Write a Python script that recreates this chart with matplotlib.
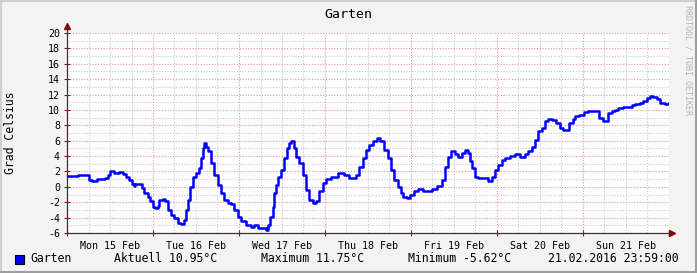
import matplotlib
matplotlib.use("Agg")
import matplotlib.pyplot as plt
from matplotlib.patches import Rectangle
from matplotlib.lines import Line2D
from matplotlib.ticker import MultipleLocator

plt.rcParams['font.family'] = ['DejaVu Sans Mono']

# hours since Mon 15 Feb 2016 00:00, temperature in degC
hours = [0, 3, 6, 7, 8.5, 10.5, 11.5, 11.9, 13, 14.5, 15.6, 16.5, 17.3, 18.1, 18.7, 19, 20.3,
         20.9, 21.5, 22.6, 23.2, 24, 24.6, 25.4, 25.7, 26.8, 27.3, 28.2, 29, 29.9, 31, 31.8,
         32.6, 33.2, 33.8, 34.3, 35.2, 36, 36.8, 37.4, 37.9, 38.2, 38.8, 39.3, 40.2, 41, 42.1,
         43, 43.8, 44.9, 45.8, 46.6, 47.7, 48.6, 49.9, 51.3, 52.2, 53.3, 54.7, 55.5, 56.1,
         56.7, 57.5, 57.8, 58.3, 58.9, 59.7, 60.6, 61.4, 61.9, 62.5, 63.3, 63.9, 64.7, 65.8,
         66.7, 67.5, 68.6, 69.5, 70.3, 71.4, 72.3, 73.7, 75.6, 77.3, 78.7, 79.5, 80.6, 81.4,
         82.6, 83.4, 84.2, 85.3, 86.5, 87.3, 88.4, 89.5, 90.3, 91.2, 92.3, 93.1, 93.9, 95,
         95.8, 96.7, 98, 99.4, 100.8, 101.9, 103.3, 104.7, 105.5, 106.4, 107.2, 108.3, 109.1,
         110.2, 111, 111.9, 112.5, 113, 113.9, 114.7, 116.7, 117.5, 118.6, 119.4, 120.3,
         121.3, 122.2, 123.6, 125, 126.4, 127.8, 128.6, 129.7, 130.5, 131.4, 132.5, 133.3,
         134.2, 135.3, 136.4, 137.5, 138.4, 139.4, 140, 141.1, 141.9, 142.8, 144.2, 145.3,
         148.1, 148.4, 149.5, 150.3, 151, 152.1, 153, 153.8, 155.2, 156.6, 157.7, 158.5,
         159.9, 160.8, 161.9, 162.7, 163.6, 164.6, 165.4, 166.8, 167.9]
temps = [1.4, 1.5, 0.9, 0.7, 1.0, 1.1, 1.5, 2.0, 1.8, 1.9, 1.7, 1.3, 0.9, 0.4, 0.1, 0.35, 0.35,
         -0.2, -0.8, -1.3, -1.9, -2.6, -2.8, -2.5, -1.7, -1.6, -1.8, -3.0, -3.7, -4.1, -4.7, -4.8,
         -4.3, -3.0, -1.7, 0.0, 1.3, 1.8, 2.4, 3.7, 5.0, 5.7, 5.2, 4.6, 3.1, 1.5, 0.2,
         -0.8, -1.7, -2.1, -2.2, -3.0, -3.9, -4.4, -5.0, -5.2, -5.0, -5.3, -5.4, -5.62, -5.0,
         -3.9, -2.6, -0.8, 0.2, 1.3, 2.2, 3.7, 5.0, 5.7, 6.0, 5.0, 3.9, 3.1, 1.5,
         -0.4, -1.7, -2.1, -1.9, -0.6, 0.5, 1.0, 1.3, 1.8, 1.5, 1.2, 1.1, 1.5, 2.6,
         3.7, 4.8, 5.4, 5.9, 6.3, 5.9, 4.8, 3.7, 2.2, 0.9, 0.0, -0.8, -1.3, -1.5,
         -1.1, -0.5, -0.3, -0.5, -0.6, -0.3, 0.1, 0.9, 2.6, 3.9, 4.6, 4.3, 3.9,
         4.4, 4.8, 4.4, 3.3, 2.4, 1.3, 1.1, 1.1, 0.7, 1.3, 2.2, 2.8,
         3.5, 3.8, 4.0, 4.3, 3.9, 4.3, 4.7, 5.2, 6.1, 7.2, 7.6, 8.5,
         8.8, 8.7, 8.3, 7.6, 7.4, 7.4, 8.3, 8.8, 9.2, 9.4, 9.7, 9.9,
         9.9, 8.9, 8.6, 8.6, 9.6, 9.9, 10.0, 10.3, 10.4, 10.4, 10.6, 10.8,
         10.9, 11.2, 11.5, 11.75, 11.7, 11.4, 10.9, 10.8, 10.95]

day_labels = ['Mon 15 Feb', 'Tue 16 Feb', 'Wed 17 Feb', 'Thu 18 Feb',
              'Fri 19 Feb', 'Sat 20 Feb', 'Sun 21 Feb']
legend_items = ['Aktuell 10.95°C', 'Maximum 11.75°C', 'Minimum -5.62°C']
timestamp = '21.02.2016 23:59:00'

W, H = 697, 273
fig = plt.figure(figsize=(W / 100, H / 100), dpi=100, facecolor='#f3f3f3')

# 3d-ish frame
fig.add_artist(Line2D([0, 1], [1 - 1 / H, 1 - 1 / H], transform=fig.transFigure, color='#cfcfcf', lw=1.5))
fig.add_artist(Line2D([1 / W, 1 / W], [0, 1], transform=fig.transFigure, color='#cfcfcf', lw=1.5))
fig.add_artist(Line2D([0, 1], [1 / H, 1 / H], transform=fig.transFigure, color='#9e9e9e', lw=1.5))
fig.add_artist(Line2D([1 - 1 / W, 1 - 1 / W], [0, 1], transform=fig.transFigure, color='#9e9e9e', lw=1.5))

x0, x1, y0, y1 = 67, 669, 33, 233
ax = fig.add_axes([x0 / W, 1 - y1 / H, (x1 - x0) / W, (y1 - y0) / H])
ax.set_facecolor('white')

ax.plot(hours, temps, drawstyle='steps-post', color='#0000ff', lw=1.8, zorder=3)

ax.set_xlim(0, 168)
ax.set_ylim(-6, 20)
ax.xaxis.set_major_locator(MultipleLocator(24))
ax.xaxis.set_minor_locator(MultipleLocator(6))
ax.yaxis.set_major_locator(MultipleLocator(2))
ax.yaxis.set_minor_locator(MultipleLocator(1))
ax.set_axisbelow(True)
ax.grid(which='major', color='#e49494', lw=0.8, linestyle=(0, (1, 1.5)))
ax.grid(which='minor', color='#c8c8c8', lw=0.8, linestyle=(0, (1, 1.5)))

ax.set_xticklabels([])
ax.tick_params(axis='x', which='major', direction='inout', length=4, width=0.8, color='#7f2020')
ax.tick_params(axis='x', which='minor', length=0)
ax.tick_params(axis='y', which='major', direction='inout', length=4, width=0.8,
               color='#7f2020', labelsize=7.2, pad=3)
ax.tick_params(axis='y', which='minor', length=0)
ax.set_yticks(range(-6, 21, 2))
ax.set_yticklabels([str(v) for v in range(-6, 21, 2)])

for s in ['top', 'right']:
    ax.spines[s].set_visible(False)
for s in ['left', 'bottom']:
    ax.spines[s].set_color('#403030')
    ax.spines[s].set_linewidth(0.9)

# axis arrows
ax.plot([0], [1.035], marker='^', color='#8b0000', markersize=4, transform=ax.transAxes, clip_on=False)
ax.plot([1.005], [0], marker='>', color='#8b0000', markersize=4, transform=ax.transAxes, clip_on=False)
ax.plot([0, 0], [1, 1.03], color='#403030', lw=0.9, transform=ax.transAxes, clip_on=False)
ax.plot([1, 1.004], [0, 0], color='#403030', lw=0.9, transform=ax.transAxes, clip_on=False)

for i, lab in enumerate(day_labels):
    ax.text(12 + 24 * i, -7.0, lab, fontsize=7.2, ha='center', va='top', clip_on=False)

fig.text(348 / W, 1 - 14 / H, 'Garten', fontsize=9.5, ha='center', va='center')
fig.text(11 / W, 1 - 133 / H, 'Grad Celsius', fontsize=8.3, rotation=90, ha='center', va='center')
fig.text(688 / W, 1 - 5 / H, 'RRDTOOL / TOBI OETIKER', fontsize=6, rotation=270,
         ha='center', va='top', color='#b4b4b4')

ly = 1 - 259 / H
fig.add_artist(Rectangle((15 / W, 1 - 264 / H), 9 / W, 9 / H, transform=fig.transFigure,
                         facecolor='#0000ff', edgecolor='black', lw=0.8))
fig.text(30 / W, ly, 'Garten', fontsize=8.3, ha='left', va='center')
for xpos, txt in zip([114, 261, 408], legend_items):
    fig.text(xpos / W, ly, txt, fontsize=8.3, ha='left', va='center')
fig.text(548 / W, ly, timestamp, fontsize=8.3, ha='left', va='center')

fig.savefig('out.png', dpi=100, facecolor=fig.get_facecolor())
